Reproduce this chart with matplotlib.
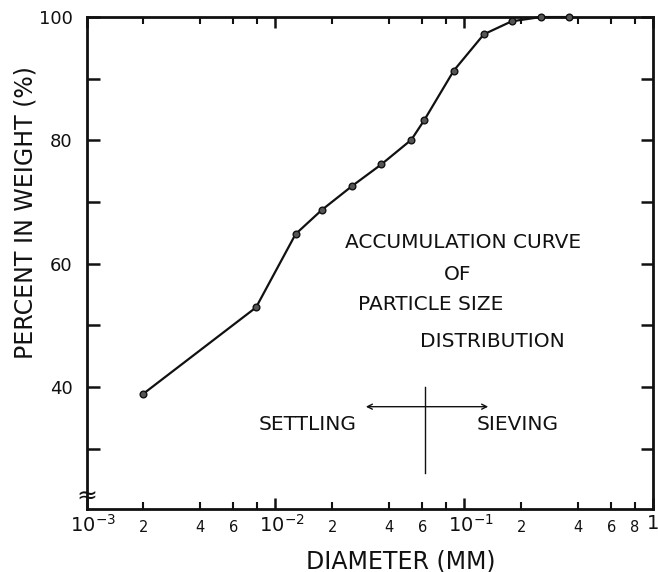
import matplotlib
matplotlib.use('Agg')
import matplotlib.pyplot as plt
from matplotlib.ticker import FixedLocator, FixedFormatter
from matplotlib.transforms import ScaledTranslation

# ---- data ----
diameter_mm = [2.0e-3, 7.9e-3, 1.28e-2, 1.76e-2, 2.55e-2, 3.64e-2, 5.25e-2,
               6.15e-2, 8.8e-2, 0.127, 0.178, 0.254, 0.36]
percent_weight = [38.9, 52.9, 64.8, 68.7, 72.6, 76.1, 80.1,
                  83.3, 91.3, 97.2, 99.3, 100.0, 100.0]

major_x = [1e-3, 1e-2, 1e-1, 1.0]
major_x_labels = [r'$10^{-3}$', r'$10^{-2}$', r'$10^{-1}$', '1']
minor_x = [2e-3, 4e-3, 6e-3, 8e-3, 2e-2, 4e-2, 6e-2, 8e-2, 2e-1, 4e-1, 6e-1, 8e-1]
minor_x_labels = ['2', '4', '6', '', '2', '4', '6', '', '2', '4', '6', '8']
y_ticks = [30, 40, 50, 60, 70, 80, 90, 100]
y_tick_labels = ['', '40', '', '60', '', '80', '', '100']
boundary_mm = 0.062  # settling / sieving boundary

fig = plt.figure(figsize=(6.58, 5.72), dpi=100)
ax = fig.add_axes([0.1315, 0.1101, 0.861, 0.8601])

ax.plot(diameter_mm, percent_weight, color='#111111', lw=1.6,
        marker='o', markersize=4.8, markerfacecolor='#555555',
        markeredgecolor='#111111', markeredgewidth=1.0, zorder=3, clip_on=False)

ax.set_xscale('log')
ax.set_xlim(1e-3, 1.0)
ax.set_ylim(20.2, 100)

ax.xaxis.set_major_locator(FixedLocator(major_x))
ax.xaxis.set_major_formatter(FixedFormatter(major_x_labels))
ax.xaxis.set_minor_locator(FixedLocator(minor_x))
ax.xaxis.set_minor_formatter(FixedFormatter(minor_x_labels))
ax.yaxis.set_major_locator(FixedLocator(y_ticks))
ax.yaxis.set_major_formatter(FixedFormatter(y_tick_labels))

for s in ax.spines.values():
    s.set_linewidth(2.0)
    s.set_color('#111111')

ax.tick_params(axis='x', which='major', direction='in', top=True, length=8,
               width=1.8, labelsize=14, pad=3.5, colors='#111111')
ax.tick_params(axis='x', which='minor', direction='in', top=True, length=5,
               width=1.5, labelsize=10.5, pad=8, colors='#111111')
ax.tick_params(axis='y', which='major', direction='in', right=True, length=9,
               width=1.8, labelsize=13, pad=10, colors='#111111')

# shift the power-of-ten labels a little so the "10" sits on the tick
for lbl in ax.xaxis.get_majorticklabels()[:3]:
    lbl.set_transform(lbl.get_transform() + ScaledTranslation(5/72, 0, fig.dpi_scale_trans))

ax.set_xlabel('DIAMETER (MM)', fontsize=17, color='#111111')
ax.xaxis.set_label_coords(0.554, -0.106)
ax.xaxis.label.set_va('center')
ax.set_ylabel('PERCENT IN WEIGHT (%)', fontsize=17, color='#111111')
ax.yaxis.set_label_coords(-0.1086, 0.602)
ax.yaxis.label.set_va('center')

# axis break mark
ax.text(0.0, 0.026, '≈', transform=ax.transAxes, ha='center', va='center',
        fontsize=18, color='#111111', clip_on=False)

# annotations
tk = dict(transform=ax.transAxes, fontsize=14.5, color='#111111', va='center')
ax.text(0.664, 0.541, 'ACCUMULATION CURVE', ha='center', **tk)
ax.text(0.655, 0.476, 'OF', ha='center', **tk)
ax.text(0.479, 0.415, 'PARTICLE SIZE', ha='left', **tk)
ax.text(0.589, 0.340, 'DISTRIBUTION', ha='left', **tk)
ax.text(0.303, 0.171, 'SETTLING', ha='left', **tk)
ax.text(0.689, 0.171, 'SIEVING', ha='left', **tk)

ax.annotate('', xy=(0.709, 0.208), xytext=(0.493, 0.208), xycoords='axes fraction',
            arrowprops=dict(arrowstyle='<->', lw=1.0, color='#111111',
                            shrinkA=0, shrinkB=0, mutation_scale=9))
ax.axvline(boundary_mm, ymin=0.073, ymax=0.249, color='#111111', lw=1.0)

fig.savefig('out.png', dpi=100)
